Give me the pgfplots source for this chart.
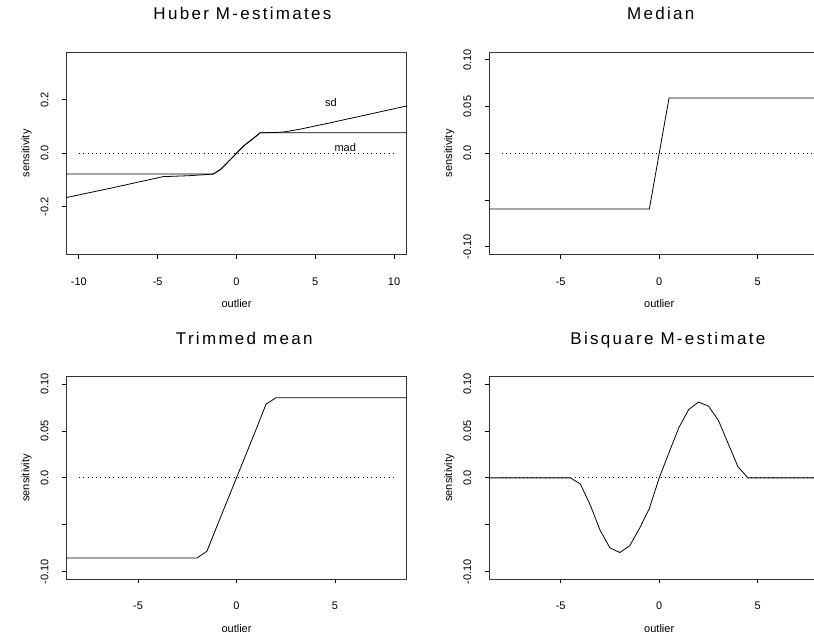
\documentclass[border=0pt]{standalone}
\usepackage{pgfplots}
\pgfplotsset{compat=1.18}
\usepackage{fontspec}
\setmainfont{Liberation Sans}
\newfontfamily\titlefont[LetterSpace=13.5]{Liberation Sans}

\pgfplotsset{
 rstyle/.style={
  scale only axis, anchor=south west, width=340.4pt, height=202pt,
  axis line style={black!80, line width=0.9pt},
  tick align=outside, major tick length=4.5pt,
  tick style={black, line width=0.9pt},
  xtick pos=left, ytick pos=left,
  ticklabel style={font=\fontsize{11}{11}\selectfont},
  xticklabel style={anchor=base, yshift=-26.3pt},
  yticklabel style={xshift=-13.5pt, rotate=90, anchor=base},
  xlabel={outlier}, ylabel={sensitivity},
  label style={font=\fontsize{11}{11}\selectfont},
  xlabel style={at={(axis description cs:0.5,0)}, anchor=base, yshift=-53.5pt},
  ylabel style={at={(axis description cs:-0.1087,0.5)}, anchor=base},
  title style={font=\titlefont\fontsize{17}{17}\selectfont, anchor=base},
  clip=true,
 },
 curve/.style={black, line width=0.8pt, mark=none},
 zeroline/.style={black, line width=0.9pt, dash pattern=on 1pt off 3.3pt, mark=none},
}

\begin{document}
\begin{tikzpicture}
\clip (0pt,0pt) rectangle (814pt,640pt);
\draw[white] (0pt,0pt) rectangle (814pt,640pt);

% Huber
\begin{axis}[rstyle, at={(66.3pt,385.7pt)},
  xmin=-10.8, xmax=10.8, ymin=-0.3787, ymax=0.3787,
  xtick={-10,-5,0,5,10}, xticklabels={-10,-5,0,5,10},
  ytick={-0.2,0,0.2}, yticklabels={-0.2,0.0,0.2},
  title={Huber M-estimates},
  title style={at={(axis description cs:0.5176,1)}, yshift=26.3pt}]
\addplot[zeroline] coordinates {(-10,0) (10,0)};
\addplot[curve] coordinates {(-11,-0.0775) (-1.45,-0.0775) (-1,-0.06) (-0.5,-0.03) (0,0) (0.5,0.03) (1,0.0525) (1.5,0.077) (11,0.077)};
\addplot[curve] coordinates {(-11,-0.169) (-10.8,-0.166) (-8,-0.131) (-6,-0.105) (-4.65,-0.0875) (-3,-0.084) (-1.5,-0.078) (-1,-0.06) (-0.5,-0.03) (0,0) (0.5,0.03) (1,0.0525) (1.5,0.077) (2.5,0.078) (3,0.08) (4,0.09) (5,0.1025) (6,0.115) (8,0.141) (10,0.167) (11,0.180)};
\node[font=\fontsize{11}{11}\selectfont] at (axis cs:6,0.19) {sd};
\node[font=\fontsize{11}{11}\selectfont] at (axis cs:6.9,0.021) {mad};
\end{axis}

% Median
\begin{axis}[rstyle, at={(489pt,385.7pt)},
  xmin=-8.64, xmax=8.64, ymin=-0.108, ymax=0.108,
  xtick={-5,0,5}, xticklabels={-5,0,5},
  ytick={-0.1,-0.05,0,0.05,0.1}, yticklabels={-0.10,,0.0,0.05,0.10},
  title={Median},
  title style={at={(axis description cs:0.5044,1)}, yshift=26.3pt}]
\addplot[zeroline] coordinates {(-8,0) (8,0)};
\addplot[curve] coordinates {(-10,-0.0595) (-0.5,-0.0595) (0.5,0.0592) (10,0.0592)};
\end{axis}

% Trimmed mean
\begin{axis}[rstyle, at={(66.3pt,61pt)}, height=202.3pt,
  xmin=-8.64, xmax=8.64, ymin=-0.108, ymax=0.108,
  xtick={-5,0,5}, xticklabels={-5,0,5},
  ytick={-0.1,-0.05,0,0.05,0.1}, yticklabels={-0.10,,0.0,0.05,0.10},
  title={Trimmed mean},
  title style={at={(axis description cs:0.5229,1)}, yshift=26.3pt}]
\addplot[zeroline] coordinates {(-8,0) (8,0)};
\addplot[curve] coordinates {(-10,-0.0855) (-2,-0.0855) (-1.5,-0.0783) (-1,-0.052) (-0.5,-0.026) (0,0) (0.5,0.026) (1,0.052) (1.5,0.0787) (2,0.0855) (10,0.0855)};
\end{axis}

% Bisquare
\begin{axis}[rstyle, at={(489pt,61pt)}, height=202.3pt,
  xmin=-8.64, xmax=8.64, ymin=-0.108, ymax=0.108,
  xtick={-5,0,5}, xticklabels={-5,0,5},
  ytick={-0.1,-0.05,0,0.05,0.1}, yticklabels={-0.10,,0.0,0.05,0.10},
  title={Bisquare M-estimate},
  title style={at={(axis description cs:0.5253,1)}, yshift=26.3pt}]
\addplot[zeroline] coordinates {(-8,0) (8,0)};
\addplot[curve] coordinates {(-10,0) (-4.5,0) (-4,-0.0067) (-3.5,-0.029) (-3,-0.056) (-2.5,-0.0748) (-2,-0.0797) (-1.5,-0.0726) (-1,-0.054) (-0.5,-0.0327) (0,0) (0.5,0.027) (1,0.0538) (1.5,0.073) (2,0.0809) (2.5,0.0766) (3,0.0616) (3.5,0.0367) (4,0.0118) (4.5,0) (10,0)};
\end{axis}
\end{tikzpicture}
\end{document}
